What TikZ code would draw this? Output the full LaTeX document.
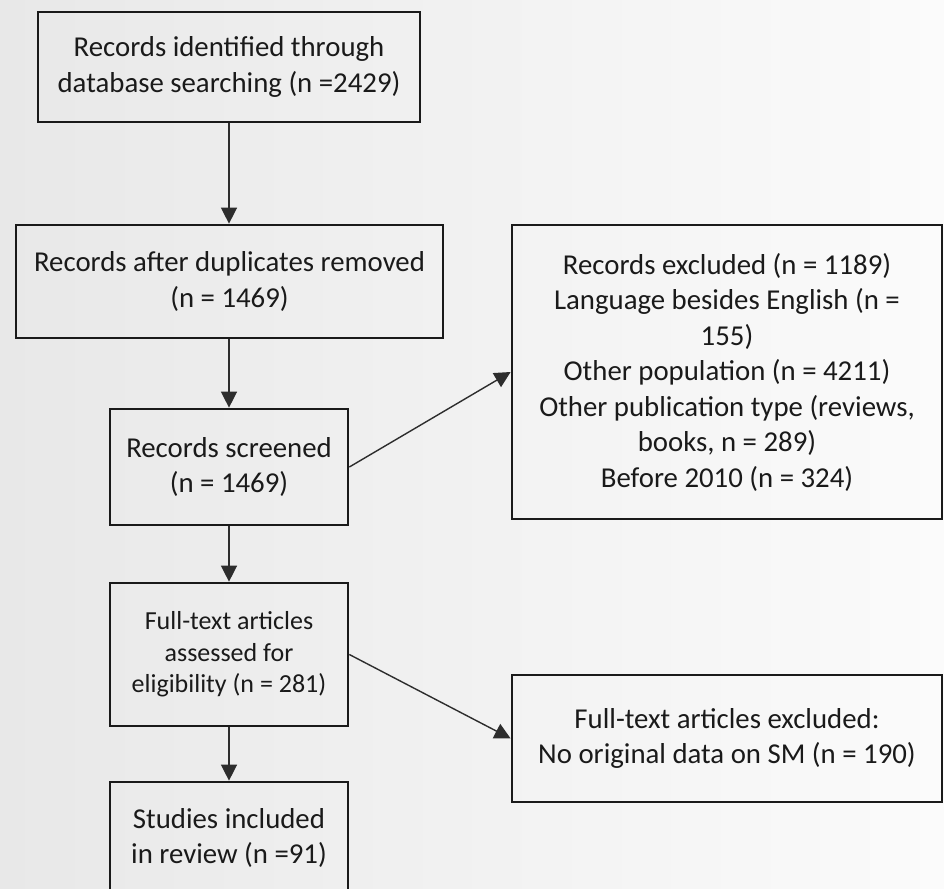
\documentclass[tikz,border=0pt]{standalone}
\usepackage{fontspec}
\setmainfont{Carlito}
\usetikzlibrary{arrows.meta}
\definecolor{bgleft}{RGB}{232,232,232}
\definecolor{bgright}{RGB}{251,251,251}
\definecolor{ink}{RGB}{26,26,26}
\definecolor{conn}{RGB}{45,45,45}
\tikzset{
  box/.style={draw=ink, line width=2.7pt, inner sep=0pt, align=center, text=ink,
    font=\fontsize{28.8}{35.5}\selectfont},
  smallbox/.style={box, font=\fontsize{26}{31.6}\selectfont},
  arr/.style={draw=conn, line width=1.4pt, -{Triangle[width=16pt,length=16pt]}}
}
\begin{document}
\begin{tikzpicture}[x=1pt,y=-1pt]
\shade[left color=bgleft, right color=bgright] (0,0) rectangle (944,888);
\useasboundingbox (0,0) rectangle (944,888);
\node[box, minimum width=382pt, minimum height=110pt] (b1) at (229,67)
  {Records identified through\\database searching (n =2429)};
\node[box, minimum width=427pt, minimum height=113pt] (b2) at (229.5,281.5)
  {Records after duplicates removed\\(n = 1469)};
\node[box, minimum width=238pt, minimum height=116pt] (b3) at (229,467)
  {Records screened\\(n = 1469)};
\node[smallbox, minimum width=238pt, minimum height=143pt] (b4) at (229,654.5)
  {Full-text articles\\assessed for\\eligibility (n = 281)};
\node[box, minimum width=238pt, minimum height=112pt] (b5) at (229,838)
  {Studies included\\in review (n =91)};
\node[box, minimum width=430pt, minimum height=294pt] (r1) at (727,372)
  {Records excluded (n = 1189)\\Language besides English (n =\\155)\\Other population (n = 4211)\\Other publication type (reviews,\\books, n = 289)\\Before 2010 (n = 324)};
\node[box, minimum width=430pt, minimum height=127pt] (r2) at (727,738.5)
  {Full-text articles excluded:\\No original data on SM (n = 190)};
\draw[arr] (b1.south) -- (b1.south |- b2.north);
\draw[arr] (b2.south -| b1.south) -- (b3.north);
\draw[arr] (b3.south) -- (b4.north);
\draw[arr] (b4.south) -- (b5.north);
\draw[arr] (b3.east) -- (r1.west);
\draw[arr] (b4.east) -- (r2.west);
\end{tikzpicture}
\end{document}
